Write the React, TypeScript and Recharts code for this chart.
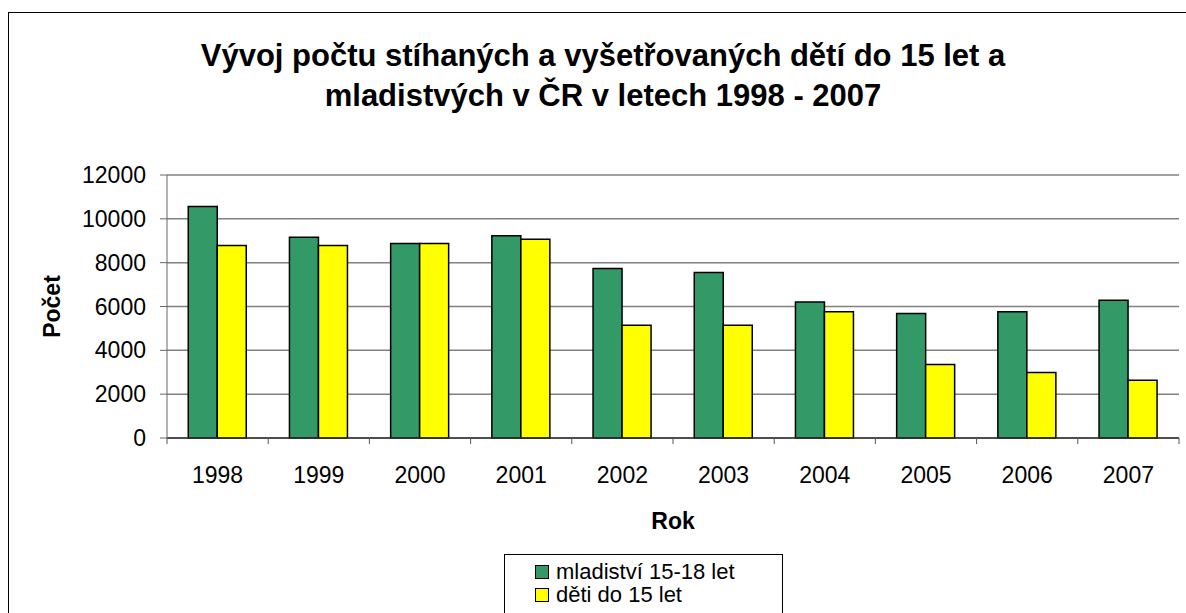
import {
  BarChart,
  Bar,
  XAxis,
  YAxis,
  CartesianGrid,
  Label,
} from "recharts";

const YEARS = ["1998", "1999", "2000", "2001", "2002", "2003", "2004", "2005", "2006", "2007"];
const MLADISTVI = [10560, 9160, 8870, 9230, 7730, 7550, 6200, 5680, 5760, 6290];
const DETI = [8780, 8780, 8870, 9070, 5150, 5150, 5760, 3350, 2990, 2640];
const Y_TICKS = [0, 2000, 4000, 6000, 8000, 10000, 12000];

const SERIES = [
  { key: "mladistvi", name: "mladiství 15-18 let", color: "#339966" },
  { key: "deti", name: "děti do 15 let", color: "#FFFF00" },
];

const data = YEARS.map((year, i) => ({
  year,
  mladistvi: MLADISTVI[i],
  deti: DETI[i],
}));

const FONT = "'Liberation Sans', Arial, sans-serif";
const BAND = (1179 - 167) / YEARS.length;

function YearTick(props: any) {
  const { x, payload, index } = props;
  const axisY = 438;
  return (
    <g>
      <line x1={x - BAND / 2} y1={axisY} x2={x - BAND / 2} y2={axisY + 6} stroke="#555" />
      {index === YEARS.length - 1 && (
        <line x1={x + BAND / 2} y1={axisY} x2={x + BAND / 2} y2={axisY + 6} stroke="#555" />
      )}
      <text
        x={x}
        y={axisY + 37}
        textAnchor="middle"
        dominantBaseline="central"
        fontSize={23}
        fontFamily={FONT}
        fill="#000"
      >
        {payload.value}
      </text>
    </g>
  );
}

function LegendBox() {
  return (
    <div
      style={{
        position: "absolute",
        left: 504,
        top: 554,
        width: 279,
        height: 80,
        border: "1px solid #000",
        background: "#fff",
        fontFamily: FONT,
        fontSize: 22,
        color: "#000",
        boxSizing: "border-box",
        paddingTop: 5,
        paddingLeft: 30,
        lineHeight: "24px",
      }}
    >
      {SERIES.map((s) => (
        <div key={s.key} style={{ display: "flex", alignItems: "center", height: 23 }}>
          <span
            style={{
              display: "inline-block",
              width: 12,
              height: 12,
              background: s.color,
              border: "1.5px solid #000",
              marginRight: 7,
            }}
          />
          {s.name}
        </div>
      ))}
    </div>
  );
}

const axisTitle = {
  fontFamily: FONT,
  fontWeight: "bold",
  fontSize: 23,
  fill: "#000",
};

export default function App() {
  return (
    <div
      style={{
        position: "fixed",
        top: 0,
        left: 0,
        width: 1186,
        height: 613,
        background: "#fff",
        overflow: "hidden",
      }}
    >
      <div
        style={{
          position: "absolute",
          left: 8,
          top: 12,
          width: 1200,
          height: 700,
          border: "1px solid #000",
        }}
      />
      <div
        style={{
          position: "absolute",
          left: 0,
          top: 36,
          width: 1206,
          textAlign: "center",
          fontFamily: FONT,
          fontWeight: "bold",
          fontSize: 31,
          lineHeight: "40px",
          color: "#000",
        }}
      >
        Vývoj počtu stíhaných a vyšetřovaných dětí do 15 let a
        <br />
        mladistvých v ČR v letech 1998 - 2007
      </div>

      <BarChart
        width={1186}
        height={613}
        data={data}
        margin={{ top: 175, right: 7, left: 107, bottom: 145 }}
        barCategoryGap="21%"
        barGap={0}
        style={{ position: "absolute", left: 0, top: 0 }}
      >
        <CartesianGrid vertical={false} stroke="#808080" strokeWidth={1.5} />
        <XAxis
          dataKey="year"
          height={30}
          stroke="#333"
          strokeWidth={1.5}
          tickLine={false}
          tick={<YearTick />}
          interval={0}
        >
          <Label
            content={(p: any) => {
              const vb = p.viewBox;
              return (
                <text
                  x={vb.x + vb.width / 2}
                  y={521}
                  textAnchor="middle"
                  dominantBaseline="central"
                  style={axisTitle}
                >
                  Rok
                </text>
              );
            }}
          />
        </XAxis>
        <YAxis
          width={60}
          domain={[0, 12000]}
          ticks={Y_TICKS}
          interval={0}
          stroke="#666"
          tickSize={7}
          tickMargin={14}
          tick={{ fontSize: 23, fontFamily: FONT, fill: "#000" }}
        >
          <Label
            content={(p: any) => {
              const vb = p.viewBox;
              const cx = 52;
              const cy = vb.y + vb.height / 2;
              return (
                <text
                  x={cx}
                  y={cy}
                  transform={`rotate(-90, ${cx}, ${cy})`}
                  textAnchor="middle"
                  dominantBaseline="central"
                  style={axisTitle}
                >
                  Počet
                </text>
              );
            }}
          />
        </YAxis>
        <YAxis
          yAxisId="right"
          orientation="right"
          width={0}
          stroke="#666"
          strokeWidth={1.5}
          tick={false}
          tickLine={false}
          domain={[0, 12000]}
        />
        {SERIES.map((s) => (
          <Bar
            key={s.key}
            dataKey={s.key}
            name={s.name}
            fill={s.color}
            stroke="#000"
            strokeWidth={1.5}
            isAnimationActive={false}
          />
        ))}
      </BarChart>
      <LegendBox />
    </div>
  );
}
